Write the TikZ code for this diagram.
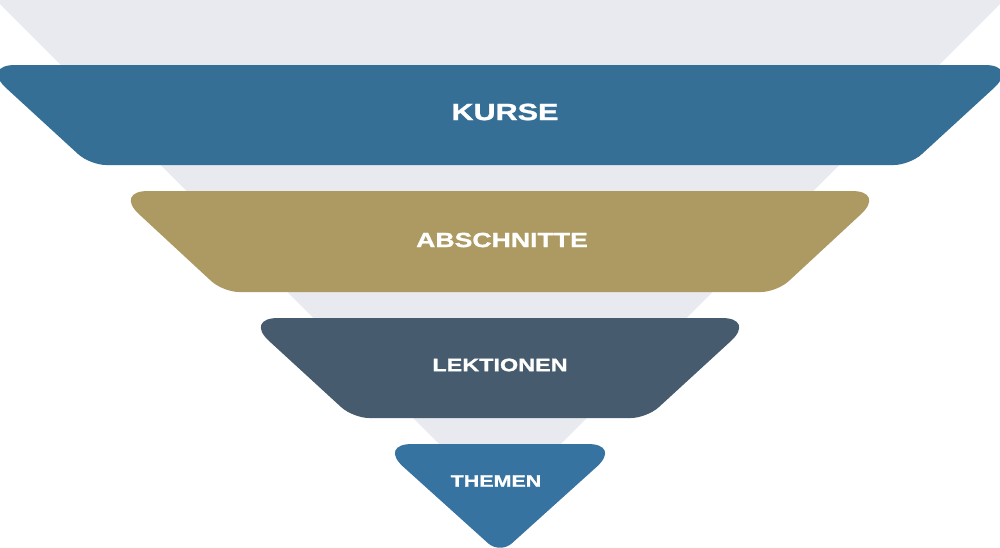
\documentclass[tikz,border=0pt]{standalone}
\usepackage{fontspec}
\newfontfamily\tierfont[FakeStretch=1.3,BoldFeatures={FakeBold=1.2}]{Liberation Sans}
\usepackage{tikz}

\definecolor{funnelgray}{HTML}{E9EAF0}
\definecolor{kursblue}{HTML}{366F96}
\definecolor{abschgold}{HTML}{AD9A62}
\definecolor{lektslate}{HTML}{465B6D}
\definecolor{themblue}{HTML}{3673A0}

\begin{document}
\begin{tikzpicture}[x=1pt,y=-1pt,
	tip/.style={rounded corners=34pt},
	foot/.style={rounded corners=16pt},
	label/.style={text=white,inner sep=0pt}]
	
	\useasboundingbox (0,0) rectangle (1000,547);
	\fill[funnelgray,rounded corners=6pt] (-4,0) -- (1004,0) -- (500,505) -- cycle;
	
	% tiers, from the widest down
	\fill[kursblue] (500,65) [tip] -- (1019,65) [foot] -- (910,165) -- (90,165) [tip] -- (-19,65) -- cycle;
	\fill[abschgold] (500,191) [tip] -- (886,191) [foot] -- (777,292) -- (223,292) [tip] -- (114,191) -- cycle;
	\fill[lektslate] (500,318) [tip] -- (756,318) [foot] -- (647,418) -- (353,418) [tip] -- (244,318) -- cycle;
	\fill[themblue] (500,444) [tip] -- (622,444) [foot] -- (500,554) [tip] -- (378,444) -- cycle;
	
	\node[label,font=\tierfont\bfseries\fontsize{23.5}{26}\selectfont] (K) at (505,112) {KURSE};
	\node[label,font=\tierfont\bfseries\fontsize{20.5}{24}\selectfont] (A) at (502,240) {ABSCHNITTE};
	\node[label,font=\tierfont\bfseries\fontsize{18}{21}\selectfont] (L) at (500,365) {LEKTIONEN};
	\node[label,font=\tierfont\bfseries\fontsize{16.5}{19}\selectfont] (T) at (496,481) {THEMEN};
\end{tikzpicture}
\end{document}
